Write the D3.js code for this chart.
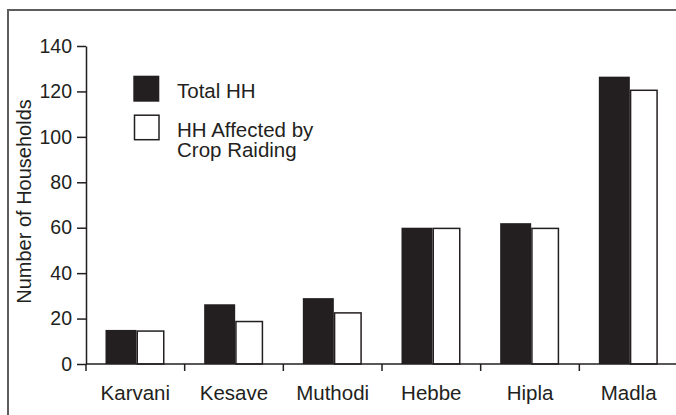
<!DOCTYPE html>
<html>
<head>
<meta charset="utf-8">
<script src="https://cdn.jsdelivr.net/npm/d3@7"></script>
<style>
  html, body { margin: 0; padding: 0; background: #fff; }
  svg { display: block; }
  text { font-family: "Liberation Sans", Arial, Helvetica, sans-serif; fill: #231f20; }
</style>
</head>
<body>
<div id="chart"></div>
<script>
const categories = ['Karvani', 'Kesave', 'Muthodi', 'Hebbe', 'Hipla', 'Madla'];
const totalHH = [15, 26.3, 29, 60, 62, 126.5];
const affectedHH = [14.5, 18.7, 22.5, 59.7, 59.7, 120.5];
const yTicks = [0, 20, 40, 60, 80, 100, 120, 140];
const legendLabels = [['Total HH'], ['HH Affected by', 'Crop Raiding']];

const width = 676;
const height = 415;
const ink = '#231f20';

const svg = d3.select('#chart')
  .append('svg')
  .attr('width', width)
  .attr('height', height);

// frame (left and top edges only are visible)
svg.append('path')
  .attr('d', `M8,${height} L8,10 L${width},10`)
  .attr('fill', 'none')
  .attr('stroke', '#5d5d5d')
  .attr('stroke-width', 2);

const x0 = d3.scaleBand()
  .domain(categories)
  .range([86, 678])
  .paddingInner(0)
  .paddingOuter(0);

const x1 = d3.scaleBand()
  .domain(['total', 'affected'])
  .range([19.5, 81.5]);

const y = d3.scaleLinear()
  .domain([0, 140])
  .range([364, 46]);

const rows = categories.map((name, i) => ({ name, total: totalHH[i], affected: affectedHH[i] }));

// bars
const groups = svg.selectAll('.group')
  .data(rows)
  .enter()
  .append('g')
  .attr('transform', (d) => `translate(${x0(d.name)},0)`);

groups.append('rect')
  .attr('x', x1('total'))
  .attr('y', (d) => y(d.total))
  .attr('width', x1.bandwidth())
  .attr('height', (d) => y(0) - y(d.total))
  .attr('fill', ink);

groups.append('rect')
  .attr('x', x1('affected') + 0.75)
  .attr('y', (d) => y(d.affected))
  .attr('width', x1.bandwidth() - 4.5)
  .attr('height', (d) => y(0) - y(d.affected))
  .attr('fill', '#fff')
  .attr('stroke', ink)
  .attr('stroke-width', 1.5);

// y axis
const yAxis = svg.append('g')
  .attr('transform', 'translate(86,0)')
  .call(d3.axisLeft(y).tickValues(yTicks).tickSize(9).tickSizeOuter(0).tickPadding(5));
yAxis.select('.domain').attr('stroke', ink).attr('stroke-width', 1.5);
yAxis.selectAll('.tick line').attr('stroke', ink).attr('stroke-width', 1.5);
yAxis.selectAll('.tick text')
  .attr('font-size', 19.5)
  .attr('fill', ink)
  .attr('font-family', '"Liberation Sans", Arial, sans-serif');

// x axis with ticks at category boundaries
const xAxis = svg.append('g')
  .attr('transform', `translate(0,${y(0)})`);
xAxis.append('line')
  .attr('x1', x0.range()[0])
  .attr('x2', x0.range()[1])
  .attr('stroke', ink)
  .attr('stroke-width', 1.5);
xAxis.selectAll('.bound')
  .data(categories.slice(1).concat(['end']))
  .enter()
  .append('line')
  .attr('x1', (d) => (d === 'end' ? x0.range()[1] : x0(d)))
  .attr('x2', (d) => (d === 'end' ? x0.range()[1] : x0(d)))
  .attr('y1', 0)
  .attr('y2', 7)
  .attr('stroke', ink)
  .attr('stroke-width', 1.5);
xAxis.append('line')
  .attr('x1', 86).attr('x2', 86)
  .attr('y1', 0).attr('y2', 7)
  .attr('stroke', ink)
  .attr('stroke-width', 1.5);
xAxis.selectAll('.cat')
  .data(categories)
  .enter()
  .append('text')
  .attr('x', (d) => x0(d) + x0.bandwidth() / 2)
  .attr('y', 35.5)
  .attr('text-anchor', 'middle')
  .attr('font-size', 20.5)
  .text((d) => d);

// y label
svg.append('text')
  .attr('transform', 'translate(31,201.5) rotate(-90)')
  .attr('text-anchor', 'middle')
  .attr('font-size', 20)
  .text('Number of Households');

// legend
const legend = svg.append('g');
legend.append('rect')
  .attr('x', 133.3).attr('y', 75.7)
  .attr('width', 26).attr('height', 26)
  .attr('fill', ink);
legend.append('rect')
  .attr('x', 134.5).attr('y', 115.2)
  .attr('width', 24.5).attr('height', 24.5)
  .attr('fill', '#fff')
  .attr('stroke', ink)
  .attr('stroke-width', 1.5);
legend.append('text')
  .attr('x', 177).attr('y', 98.3)
  .attr('font-size', 20.5)
  .text(legendLabels[0][0]);
legend.append('text')
  .attr('x', 177).attr('y', 137.3)
  .attr('font-size', 20.5)
  .selectAll('tspan')
  .data(legendLabels[1])
  .enter()
  .append('tspan')
  .attr('x', 177)
  .attr('dy', (d, i) => (i === 0 ? 0 : 19.5))
  .text((d) => d);
</script>
</body>
</html>
